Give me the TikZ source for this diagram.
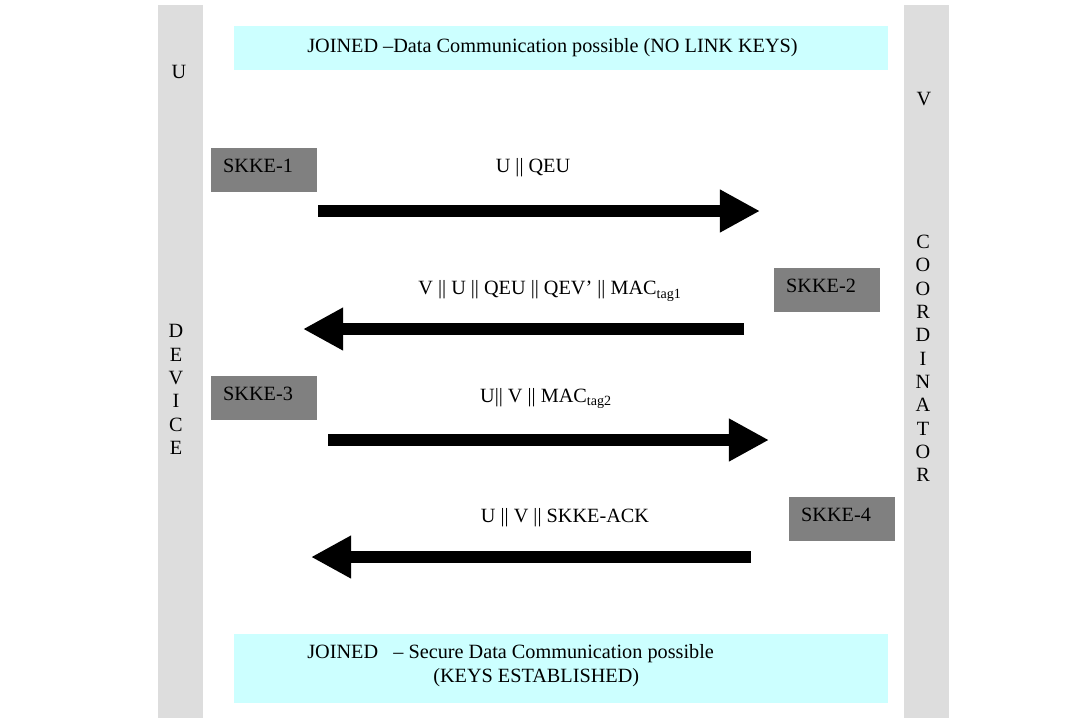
\documentclass[tikz,border=0pt]{standalone}
\usepackage{fontspec}
\setmainfont{Liberation Serif}
\usetikzlibrary{arrows.meta}
\definecolor{sidegray}{HTML}{DDDDDD}
\definecolor{statecyan}{HTML}{CCFFFF}
\definecolor{skkegray}{HTML}{808080}
\tikzset{
	skke/.style={fill=skkegray, minimum width=106*0.7113pt, minimum height=44*0.7113pt, inner xsep=8.5pt, inner ysep=0pt,
		text width=58pt, align=left, text height=9.5pt, text depth=5.5pt},
	msg/.style={line width=8.5pt, -{Triangle[length=28.5pt, width=28.5pt]}},
	letter/.style={inner sep=0pt}
}
\begin{document}
\begin{tikzpicture}[x=0.025cm, y=-0.025cm, font=\fontsize{14.4}{16.5}\selectfont, line join=round, >=stealth]
	\useasboundingbox (0,0) rectangle (1089,726);
	% side bars and state boxes
	\fill[sidegray] (158,5) rectangle (203,718);
	\fill[sidegray] (904,5) rectangle (949,718);
	\fill[statecyan] (234,26) rectangle (888,70);
	\fill[statecyan] (234,634) rectangle (888,703);
	\node[anchor=west, inner sep=0pt] (top) at (307,48) {JOINED –Data Communication possible (NO LINK KEYS)};
	\node[anchor=west, inner sep=0pt] (bot1) at (307,654) {JOINED \ \ – Secure Data Communication possible};
	\node[anchor=west, inner sep=0pt] (bot2) at (433,678) {(KEYS ESTABLISHED)};
	% parties
	\node[letter] (U) at (179,72) {U};
	\node[letter] (V) at (924,99) {V};
	\foreach \ch [count=\i] in {D,E,V,I,C,E}
		\node[letter] (dev\i) at (176,{331+23.4*(\i-1)}) {\ch};
	\foreach \ch [count=\i] in {C,O,O,R,D,I,N,A,T,O,R}
		\node[letter] (coord\i) at (923,{242+23.3*(\i-1)}) {\ch};
	% steps
	\node[skke] (s1) at (264,170) {SKKE-1};
	\node[skke] (s2) at (827,290) {SKKE-2};
	\node[skke] (s3) at (264,398) {SKKE-3};
	\node[skke] (s4) at (842,519) {SKKE-4};
	% messages
	\coordinate (m1a) at (318,211);	\coordinate (m1b) at (760,211);
	\coordinate (m2a) at (744,329);	\coordinate (m2b) at (303,329);
	\coordinate (m3a) at (328,440);	\coordinate (m3b) at (769,440);
	\coordinate (m4a) at (751,557);	\coordinate (m4b) at (311,557);
	\foreach \m in {m1,m2,m3,m4}	\draw[msg] (\m a)--(\m b);
	\node (l1) at (533,168) {U || QEU};
	\node (l2) at (550,291) {V || U || QEU || QEV’ || MAC\textsubscript{tag1}};
	\node (l3) at (546,398) {U|| V || MAC\textsubscript{tag2}};
	\node (l4) at (565,518) {U || V || SKKE-ACK};
\end{tikzpicture}
\end{document}
